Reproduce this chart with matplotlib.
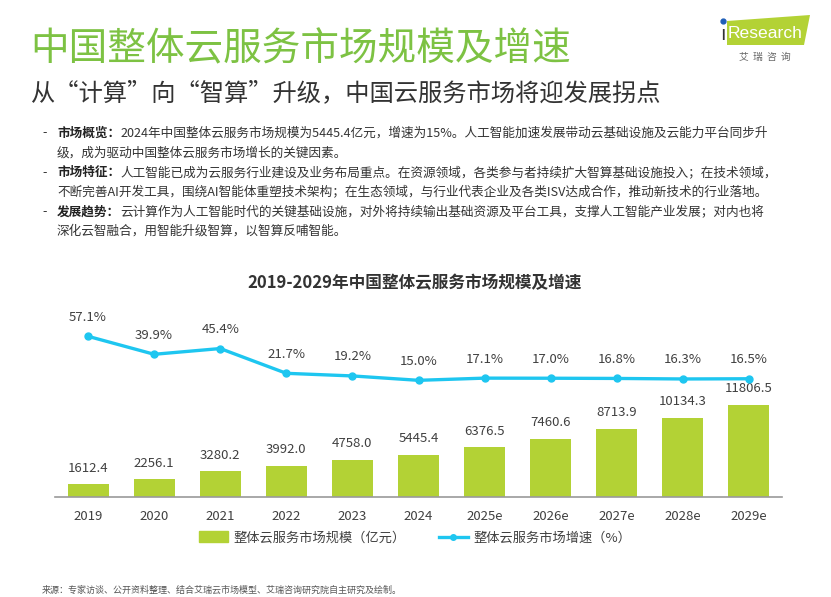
import numpy as np
import matplotlib.pyplot as plt
from matplotlib.patches import Polygon
from matplotlib.lines import Line2D
from matplotlib.patches import Patch

plt.rcParams['font.family'] = ['Noto Sans CJK SC', 'DejaVu Sans']

years = ['2019', '2020', '2021', '2022', '2023', '2024', '2025e', '2026e', '2027e', '2028e', '2029e']
market_size = [1612.4, 2256.1, 3280.2, 3992.0, 4758.0, 5445.4, 6376.5, 7460.6, 8713.9, 10134.3, 11806.5]
growth = [57.1, 39.9, 45.4, 21.7, 19.2, 15.0, 17.1, 17.0, 16.8, 16.3, 16.5]

bar_color = '#b3d235'
line_color = '#1ec6f0'
text_gray = '#404040'

W, H = 831, 597
fig = plt.figure(figsize=(W / 100, H / 100), dpi=100)


def fx(px):
    return px / W


def fy(py):
    return 1 - py / H


# header
fig.text(fx(30), fy(49), '中国整体云服务市场规模及增速', fontsize=27.8, color='#7dc243',
         va='center', ha='left')
fig.text(fx(30), fy(93), '从“计算”向“智算”升级，中国云服务市场将迎发展拐点', fontsize=17.5,
         color='#333333', va='center', ha='left')

# logo
logo = Polygon([[fx(727), fy(21)], [fx(810), fy(15)], [fx(804), fy(45)], [fx(727), fy(45)]],
               closed=True, transform=fig.transFigure, color='#b3d235', lw=0)
fig.patches.append(logo)
fig.text(fx(720), fy(34), 'ı', fontsize=14, color='#333333', va='center', ha='left',
         family='DejaVu Sans')
fig.add_artist(Line2D([fx(722.5)], [fy(21)], marker='o', ms=3.5, color='#1f5fb8',
                      transform=fig.transFigure))
fig.text(fx(728), fy(33), 'Research', fontsize=12.6, color='white', va='center', ha='left',
         family='Liberation Sans')
fig.text(fx(765), fy(57), '艾  瑞  咨  询', fontsize=7, color='#666666', va='center', ha='center')

# bullet text
bullets = [
    ('市场概览：', ['2024年中国整体云服务市场规模为5445.4亿元，增速为15%。人工智能加速发展带动云基础设施及云能力平台同步升',
                  '级，成为驱动中国整体云服务市场增长的关键因素。']),
    ('市场特征：', ['人工智能已成为云服务行业建设及业务布局重点。在资源领域，各类参与者持续扩大智算基础设施投入；在技术领域，',
                  '不断完善AI开发工具，围绕AI智能体重塑技术架构；在生态领域，与行业代表企业及各类ISV达成合作，推动新技术的行业落地。']),
    ('发展趋势：', ['云计算作为人工智能时代的关键基础设施，对外将持续输出基础资源及平台工具，支撑人工智能产业发展；对内也将',
                  '深化云智融合，用智能升级智算，以智算反哺智能。']),
]
body_fs = 9.1
y = 133
for head, lines in bullets:
    fig.text(fx(42), fy(y), '-', fontsize=body_fs, color='#333333', va='center', ha='left')
    t = fig.text(fx(57), fy(y), head, fontsize=body_fs, color='#222222', weight='bold',
                 va='center', ha='left')
    fig.add_artist(plt.Annotation(lines[0], xy=(1, 0), xycoords=t, va='bottom', ha='left',
                                  fontsize=body_fs, color='#333333'))
    y += 19.7
    fig.text(fx(57), fy(y), lines[1], fontsize=body_fs, color='#333333', va='center', ha='left')
    y += 19.7

# chart title
fig.text(fx(415), fy(283), '2019-2029年中国整体云服务市场规模及增速', fontsize=12, weight='bold',
         color='#333333', va='center', ha='center')

# chart axes
left, right, bottom, top = 55, 782, 497, 320
ax = fig.add_axes([fx(left), fy(bottom), fx(right - left), (bottom - top) / H])
x = np.arange(len(years))
ax.bar(x, market_size, width=0.62, color=bar_color, zorder=2)
for xi, v in zip(x, market_size):
    ax.annotate(f'{v:.1f}', (xi, v), xytext=(0, 7), textcoords='offset points', ha='center',
                va='bottom', fontsize=9.5, color=text_gray)
ax.set_xlim(-0.5, 10.5)
ax.set_ylim(0, 22700)
ax.set_yticks([])
ax.set_xticks(x)
ax.set_xticklabels(years, fontsize=9.5, color=text_gray)
ax.tick_params(axis='x', length=0, pad=9)
for s in ['top', 'right', 'left']:
    ax.spines[s].set_visible(False)
ax.spines['bottom'].set_color('#9a9a9a')
ax.spines['bottom'].set_linewidth(1.2)
ax.patch.set_alpha(0)

ax2 = ax.twinx()
ax2.plot(x, growth, color=line_color, lw=2.4, marker='o', ms=5, zorder=3)
for xi, v in zip(x, growth):
    ax2.annotate(f'{v:.1f}%', (xi, v), xytext=(0, 9), textcoords='offset points', ha='center',
                 va='bottom', fontsize=9.5, color=text_gray)
ax2.set_ylim(-96.6, 72.7)
ax2.set_yticks([])
for s in ['top', 'right', 'left', 'bottom']:
    ax2.spines[s].set_visible(False)

handles = [Patch(color=bar_color), Line2D([0], [0], color=line_color, lw=2.4, marker='o', ms=4)]
fig.legend(handles, ['整体云服务市场规模（亿元）', '整体云服务市场增速（%）'], loc='center',
           bbox_to_anchor=(fx(415), fy(538)), ncol=2, frameon=False, fontsize=9.5,
           handlelength=2.2, handleheight=0.9, columnspacing=2.5, handletextpad=0.4,
           labelcolor=text_gray)

fig.text(fx(42), fy(590), '来源：专家访谈、公开资料整理、结合艾瑞云市场模型、艾瑞咨询研究院自主研究及绘制。',
         fontsize=6.5, color='#555555', va='center', ha='left')

fig.savefig('out.png', dpi=100)
